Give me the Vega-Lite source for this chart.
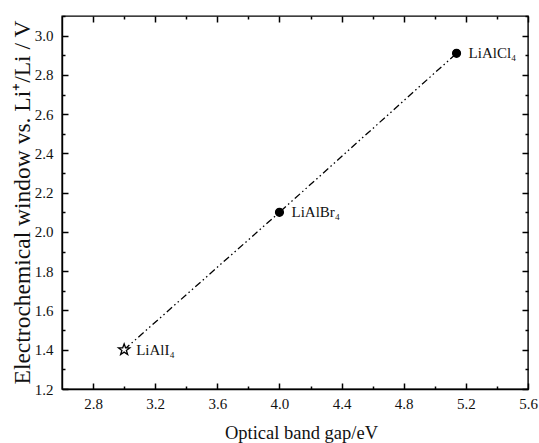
{
  "$schema": "https://vega.github.io/schema/vega-lite/v6.json",
  "autosize": "none",
  "padding": {"left": 62, "top": 16, "right": 11, "bottom": 54},
  "width": 466,
  "height": 373,
  "background": "white",
  "config": {
    "view": {"stroke": "black", "strokeWidth": 1.4},
    "font": "Liberation Serif",
    "axis": {"grid": false, "ticks": true, "domainColor": "black", "domainWidth": 1.4, "tickColor": "black", "tickWidth": 1.5, "labelColor": "#111", "titleColor": "#111", "labelFont": "Liberation Serif", "titleFont": "Liberation Serif", "labelFontSize": 15, "titleFontSize": 18, "titleFontWeight": "normal"}
  },
  "data": {"values": [
    {"name": "LiAlI₄", "gap": 3.0, "window": 1.4, "marker": "star"},
    {"name": "LiAlBr₄", "gap": 4.0, "window": 2.1, "marker": "circle"},
    {"name": "LiAlCl₄", "gap": 5.14, "window": 2.91, "marker": "circle"}
  ]},
  "resolve": {"axis": {"x": "independent", "y": "independent"}},
  "layer": [
    {
      "mark": {"type": "line", "color": "black", "strokeWidth": 1.3, "strokeDash": [7, 3, 1.5, 3, 1.5, 3]},
      "encoding": {
        "x": {"field": "gap", "type": "quantitative", "scale": {"domain": [2.6, 5.6], "nice": false, "zero": false},
          "axis": {"orient": "bottom", "title": "Optical band gap/eV", "values": [2.8, 3.2, 3.6, 4.0, 4.4, 4.8, 5.2, 5.6], "format": ".1f", "ticks": false, "labelPadding": 7, "labelFlush": false, "titleX": 239, "titleY": 43, "titleBaseline": "middle", "titleFontSize": 18.5}},
        "y": {"field": "window", "type": "quantitative", "scale": {"domain": [1.2, 3.1], "nice": false, "zero": false},
          "axis": {"orient": "left", "title": "Electrochemical window vs. Li⁺/Li / V", "values": [1.2, 1.4, 1.6, 1.8, 2.0, 2.2, 2.4, 2.6, 2.8, 3.0], "format": ".1f", "ticks": false, "labelPadding": 9, "labelFlush": false, "titleX": -40, "titleY": 186, "titleAngle": -90, "titleBaseline": "middle", "titleAlign": "center", "titleFontSize": 23.5}}
      }
    },
    {
      "mark": {"type": "point", "filled": true, "stroke": "black", "strokeWidth": 1.3, "size": 62, "opacity": 1},
      "encoding": {
        "x": {"field": "gap", "type": "quantitative", "axis": {"orient": "top", "offset": -373, "title": null, "labels": false, "domain": false, "values": [2.8, 3.2, 3.6, 4.0, 4.4, 4.8, 5.2, 5.6], "tickSize": 6}},
        "y": {"field": "window", "type": "quantitative", "axis": {"orient": "right", "offset": -466, "title": null, "labels": false, "domain": false, "values": [1.2, 1.4, 1.6, 1.8, 2.0, 2.2, 2.4, 2.6, 2.8, 3.0], "tickSize": 6}},
        "shape": {"field": "marker", "type": "nominal", "legend": null, "scale": {"domain": ["circle", "star"], "range": ["circle", "M0,-1.5L0.36,-0.49L1.43,-0.46L0.57,0.19L0.89,1.21L0,0.61L-0.89,1.21L-0.57,0.19L-1.43,-0.46L-0.36,-0.49Z"]}},
        "fill": {"field": "marker", "type": "nominal", "legend": null, "scale": {"domain": ["circle", "star"], "range": ["black", "white"]}}
      }
    },
    {
      "mark": {"type": "text", "align": "left", "baseline": "middle", "dx": 12, "fontSize": 15, "font": "Liberation Serif", "color": "#111"},
      "encoding": {
        "x": {"field": "gap", "type": "quantitative", "axis": {"orient": "bottom", "offset": -373, "title": null, "labels": false, "domain": false, "values": [2.8, 3.2, 3.6, 4.0, 4.4, 4.8, 5.2, 5.6], "tickSize": 6}},
        "y": {"field": "window", "type": "quantitative", "axis": {"orient": "left", "offset": -466, "title": null, "labels": false, "domain": false, "values": [1.2, 1.4, 1.6, 1.8, 2.0, 2.2, 2.4, 2.6, 2.8, 3.0], "tickSize": 6}},
        "text": {"field": "name"}
      }
    },
    {
      "mark": {"type": "point", "opacity": 0},
      "encoding": {
        "x": {"field": "gap", "type": "quantitative", "axis": {"orient": "top", "offset": -373, "title": null, "labels": false, "domain": false, "values": [3.0, 3.4, 3.8, 4.2, 4.6, 5.0, 5.4], "tickSize": 3}},
        "y": {"field": "window", "type": "quantitative", "axis": {"orient": "right", "offset": -466, "title": null, "labels": false, "domain": false, "values": [1.3, 1.5, 1.7, 1.9, 2.1, 2.3, 2.5, 2.7, 2.9, 3.1], "tickSize": 3}}
      }
    },
    {
      "mark": {"type": "point", "opacity": 0},
      "encoding": {
        "x": {"field": "gap", "type": "quantitative", "axis": {"orient": "bottom", "offset": -373, "title": null, "labels": false, "domain": false, "values": [3.0, 3.4, 3.8, 4.2, 4.6, 5.0, 5.4], "tickSize": 3}},
        "y": {"field": "window", "type": "quantitative", "axis": {"orient": "left", "offset": -466, "title": null, "labels": false, "domain": false, "values": [1.3, 1.5, 1.7, 1.9, 2.1, 2.3, 2.5, 2.7, 2.9, 3.1], "tickSize": 3}}
      }
    }
  ]
}
